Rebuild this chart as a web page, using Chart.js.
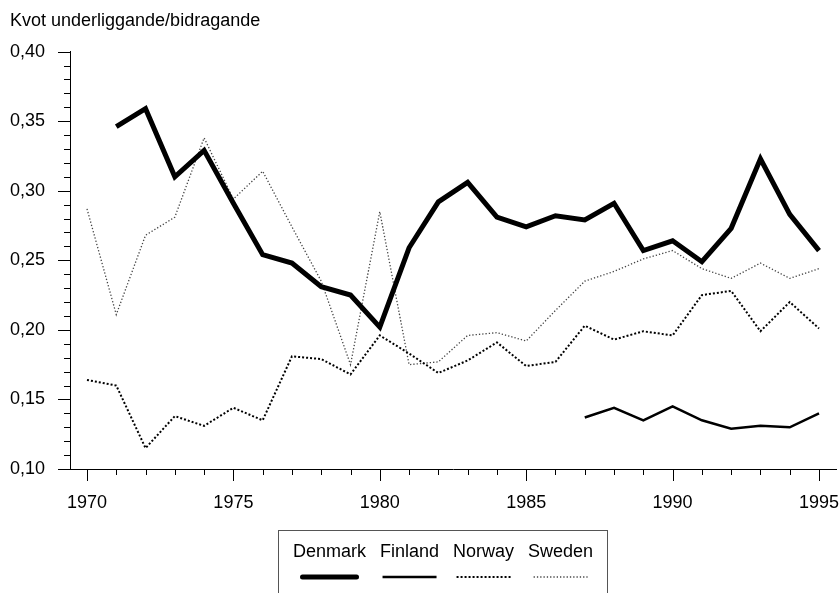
<!DOCTYPE html>
<html lang="sv">
<head>
  <meta charset="UTF-8">
  <title>Kvot underliggande/bidragande</title>
  <script src="https://cdn.jsdelivr.net/npm/chart.js"></script>
  <style>
    html, body { margin: 0; padding: 0; background: #fff; overflow: hidden; }
    #chart-container { width: 840px; height: 593px; }
  </style>
</head>
<body>
  <div id="chart-container">
    <canvas id="myChart" width="840" height="593"></canvas>
  </div>

  <script>
  // values, one per year (null = no data)
  const years = [1970, 1971, 1972, 1973, 1974, 1975, 1976, 1977, 1978, 1979,
                 1980, 1981, 1982, 1983, 1984, 1985, 1986, 1987, 1988, 1989,
                 1990, 1991, 1992, 1993, 1994, 1995];
  const denmark = [null, 0.346, 0.359, 0.310, 0.329, 0.291, 0.254, 0.248, 0.231, 0.225,
                   0.202, 0.259, 0.292, 0.306, 0.281, 0.274, 0.282, 0.279, 0.291, 0.257,
                   0.264, 0.249, 0.273, 0.323, 0.283, 0.257];
  const finland = [null, null, null, null, null, null, null, null, null, null,
                   null, null, null, null, null, null, null, 0.137, 0.144, 0.135,
                   0.145, 0.135, 0.129, 0.131, 0.130, 0.140];
  const norway  = [0.164, 0.160, 0.115, 0.138, 0.131, 0.144, 0.135, 0.181, 0.179, 0.168,
                   0.196, 0.183, 0.169, 0.178, 0.191, 0.174, 0.177, 0.203, 0.193, 0.199,
                   0.196, 0.225, 0.228, 0.199, 0.220, 0.201];
  const sweden  = [0.287, 0.211, 0.268, 0.281, 0.338, 0.294, 0.314, 0.274, 0.235, 0.175,
                   0.285, 0.175, 0.177, 0.196, 0.198, 0.192, 0.214, 0.235, 0.242, 0.251,
                   0.257, 0.244, 0.237, 0.248, 0.237, 0.244];
  const yTicks = [0.10, 0.15, 0.20, 0.25, 0.30, 0.35, 0.40];
  const xTicks = [1970, 1975, 1980, 1985, 1990, 1995];
  const yTitle = 'Kvot underliggande/bidragande';

  const FONT = "'Liberation Sans', Arial, Helvetica, sans-serif";

  function toPoints(values) {
    return years.map((yr, i) => ({ x: yr, y: values[i] }));
  }

  // major + minor tick marks (the library only knows one tick length per axis)
  const tickMarks = {
    id: 'tickMarks',
    afterDraw(chart) {
      const ctx = chart.ctx;
      const xs = chart.scales.x, ys = chart.scales.y;
      const area = chart.chartArea;
      ctx.save();
      ctx.strokeStyle = '#000';
      ctx.lineWidth = 1;
      ctx.beginPath();
      for (let i = 10; i <= 40; i++) {
        const py = Math.round(ys.getPixelForValue(i / 100)) + 0.5;
        const len = i % 5 === 0 ? 12 : 6;
        ctx.moveTo(area.left - len, py);
        ctx.lineTo(area.left, py);
      }
      years.forEach(yr => {
        const px = Math.round(xs.getPixelForValue(yr)) + 0.5;
        const len = yr % 5 === 0 ? 12 : 6;
        ctx.moveTo(px, area.bottom);
        ctx.lineTo(px, area.bottom + len);
      });
      ctx.stroke();
      ctx.restore();
    }
  };

  // legend box with the names above the line samples
  const boxLegend = {
    id: 'boxLegend',
    afterDraw(chart) {
      const ctx = chart.ctx;
      const area = chart.chartArea;
      const top = area.bottom + 61;
      const textY = area.bottom + 83;
      const lineY = area.bottom + 108;
      const gap = 14;
      ctx.save();
      ctx.font = '18px ' + FONT;
      ctx.textBaseline = 'middle';
      ctx.textAlign = 'left';
      let x = area.left + 223;
      const startX = x;
      chart.data.datasets.forEach(ds => {
        const w = ctx.measureText(ds.label).width;
        ctx.fillStyle = '#000';
        ctx.fillText(ds.label, x, textY);
        const cx = x + w / 2;
        ctx.strokeStyle = ds.borderColor;
        ctx.lineWidth = ds.borderWidth;
        ctx.setLineDash(ds.borderDash || []);
        ctx.lineCap = ds.borderWidth > 3 ? 'round' : 'butt';
        ctx.beginPath();
        ctx.moveTo(cx - 27, lineY);
        ctx.lineTo(cx + 27, lineY);
        ctx.stroke();
        x += w + gap;
      });
      ctx.setLineDash([]);
      ctx.lineCap = 'butt';
      ctx.strokeStyle = '#555';
      ctx.lineWidth = 1;
      ctx.strokeRect(Math.round(startX - 15) + 0.5, top + 0.5, Math.round(x - gap + 14 - (startX - 15)), 80);
      ctx.restore();
    }
  };

  const config = {
    type: 'line',
    data: {
      datasets: [
        { label: 'Denmark', data: toPoints(denmark), borderColor: '#000', borderWidth: 5, borderDash: [] },
        { label: 'Finland', data: toPoints(finland), borderColor: '#000', borderWidth: 2.5, borderDash: [] },
        { label: 'Norway', data: toPoints(norway), borderColor: '#000', borderWidth: 2, borderDash: [2, 2] },
        { label: 'Sweden', data: toPoints(sweden), borderColor: '#444', borderWidth: 1.3, borderDash: [1.3, 2] }
      ]
    },
    options: {
      responsive: false,
      animation: false,
      spanGaps: false,
      elements: {
        point: { radius: 0, hoverRadius: 0 },
        line: { tension: 0 }
      },
      layout: { padding: { left: 10, right: 4, top: 0, bottom: 79 } },
      plugins: {
        legend: { display: false },
        tooltip: { enabled: false },
        title: {
          display: true,
          text: yTitle,
          align: 'start',
          color: '#000',
          font: { family: FONT, size: 18, weight: 'normal' },
          padding: { top: 10, bottom: 20 }
        }
      },
      scales: {
        x: {
          type: 'linear',
          min: 1969.42,
          max: 1995.58,
          grid: { display: false, drawTicks: false },
          border: { display: true, color: '#000', width: 1 },
          afterBuildTicks: axis => { axis.ticks = xTicks.map(v => ({ value: v })); },
          afterFit: axis => { axis.height = 45; axis.paddingLeft = 0; axis.paddingRight = 0; },
          ticks: {
            autoSkip: false,
            maxRotation: 0,
            padding: 23,
            color: '#000',
            font: { family: FONT, size: 18 },
            callback: v => String(v)
          }
        },
        y: {
          min: 0.10,
          max: 0.40,
          grid: { display: false, drawTicks: false },
          border: { display: true, color: '#000', width: 1 },
          afterBuildTicks: axis => { axis.ticks = yTicks.map(v => ({ value: v })); },
          afterFit: axis => { axis.width = 60; axis.paddingTop = 0; axis.paddingBottom = 0; },
          ticks: {
            autoSkip: false,
            padding: 25,
            color: '#000',
            font: { family: FONT, size: 18 },
            callback: v => v.toFixed(2).replace('.', ',')
          }
        }
      }
    },
    plugins: [tickMarks, boxLegend]
  };

  new Chart(document.getElementById('myChart'), config);
  </script>
</body>
</html>
